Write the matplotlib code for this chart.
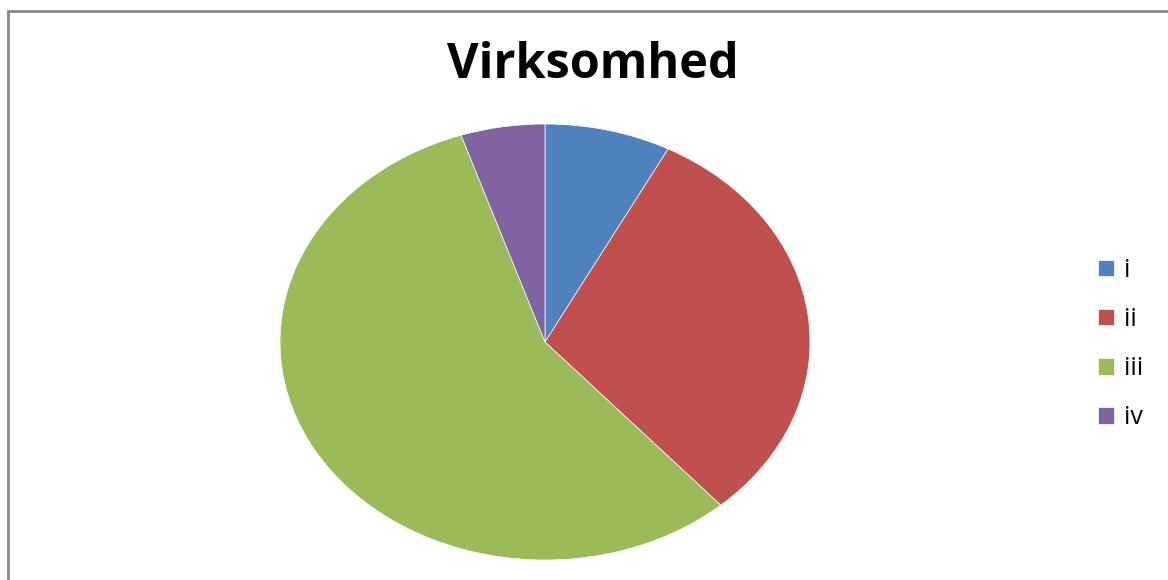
import matplotlib
matplotlib.use("Agg")
import matplotlib.pyplot as plt
from matplotlib.patches import Rectangle

labels = ["i", "ii", "iii", "iv"]
counts = [3, 12, 22, 2]
colors = ["#4F81BD", "#C0504D", "#9BBB59", "#8064A2"]

plt.rcParams["font.family"] = ["Open Sans", "DejaVu Sans"]

W, H = 1168, 580
fig = plt.figure(figsize=(W / 100, H / 100), dpi=100)
fig.patch.set_facecolor("white")

# grey chart frame (runs off the right and bottom edges)
fig.patches.append(Rectangle((8 / W, -0.2), 1.2, 1.2 - 11 / H,
                             transform=fig.transFigure, fill=False,
                             edgecolor="#878787", linewidth=2.0))

# pie is stretched into an ellipse
left, right, top, bottom = 280, 810, 124, 560
ax = fig.add_axes([left / W, 1 - bottom / H, (right - left) / W, (bottom - top) / H])
wedges, _ = ax.pie(counts, colors=colors, startangle=90, counterclock=False,
                   wedgeprops=dict(edgecolor="white", linewidth=0.5))
ax.set_aspect("auto")
ax.set_xlim(-1, 1)
ax.set_ylim(-1, 1)
ax.axis("off")

fig.text(593 / W, 1 - 65 / H, "Virksomhed", ha="center", va="center",
         fontsize=35, fontweight="bold", color="black")

fig.legend(wedges, labels, loc="center left", bbox_to_anchor=(1098 / W, 1 - 344 / H),
           frameon=False, fontsize=18, handlelength=0.64, handleheight=0.64,
           handletextpad=0.4, labelspacing=0.97, borderpad=0, borderaxespad=0)

fig.savefig("out.png", dpi=100, facecolor="white")
